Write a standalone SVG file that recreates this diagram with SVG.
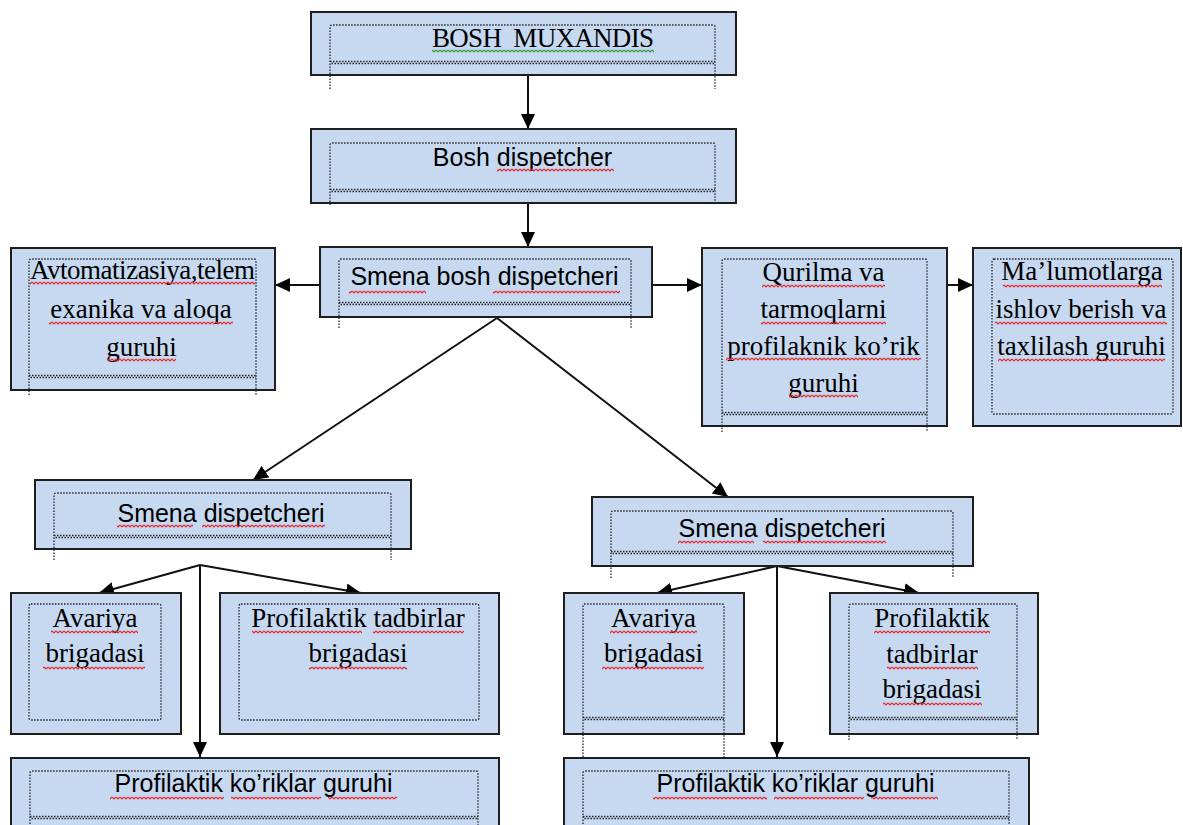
<svg xmlns="http://www.w3.org/2000/svg" width="1183" height="825" viewBox="0 0 1183 825">
<style>
.box{fill:#c6d9f0;stroke:#1e1e1e;stroke-width:2}
.dot{fill:none;stroke:#222;stroke-width:1.3;stroke-dasharray:1.5 1.5}
.dot2{fill:none;stroke:#222;stroke-width:1.3;stroke-dasharray:1.5 1.5;stroke-dashoffset:1.5}
.serif{font-family:"Liberation Serif","Times New Roman",serif;font-size:27px;fill:#000;text-anchor:middle}
.sans{font-family:"Liberation Sans",Arial,sans-serif;font-size:25px;fill:#000;text-anchor:middle}
.conn{stroke:#111;stroke-width:2;fill:none}
.wr{fill:url(#wr)}
.wg{fill:url(#wg)}
</style>
<defs>
<marker id="ah" markerUnits="userSpaceOnUse" markerWidth="16" markerHeight="14" refX="15" refY="7" orient="auto"><path d="M0,0 L15,7 L0,14 z" fill="#000"/></marker>
<pattern id="wr" width="4" height="4" patternUnits="userSpaceOnUse"><path d="M0,1 L2,3 L4,1" fill="none" stroke="#e8262b" stroke-width="1.1"/></pattern>
<pattern id="wg" width="4" height="4" patternUnits="userSpaceOnUse"><path d="M0,1 L2,3 L4,1" fill="none" stroke="#2e9b3a" stroke-width="1.1"/></pattern>
</defs>
<rect width="1183" height="825" fill="#fff"/>

<g id="connectors">
<line class="conn" x1="528" y1="75" x2="528" y2="129" marker-end="url(#ah)"/>
<line class="conn" x1="528" y1="203" x2="528" y2="247" marker-end="url(#ah)"/>
<line class="conn" x1="320" y1="285" x2="275" y2="285" marker-end="url(#ah)"/>
<line class="conn" x1="652" y1="285" x2="702" y2="285" marker-end="url(#ah)"/>
<line class="conn" x1="947" y1="285" x2="973" y2="285" marker-end="url(#ah)"/>
<line class="conn" x1="497" y1="318" x2="253" y2="480" marker-end="url(#ah)"/>
<line class="conn" x1="497" y1="318" x2="728" y2="497" marker-end="url(#ah)"/>
<line class="conn" x1="200" y1="565" x2="99" y2="593" marker-end="url(#ah)"/>
<line class="conn" x1="200" y1="565" x2="361" y2="593" marker-end="url(#ah)"/>
<line class="conn" x1="200" y1="565" x2="200" y2="757" marker-end="url(#ah)"/>
<line class="conn" x1="777" y1="566" x2="657" y2="593" marker-end="url(#ah)"/>
<line class="conn" x1="777" y1="566" x2="919" y2="593" marker-end="url(#ah)"/>
<line class="conn" x1="777" y1="566" x2="777" y2="757" marker-end="url(#ah)"/>
</g>

<g id="n-bosh-muxandis">
<rect class="box" x="311" y="12" width="425" height="63"/>
<path class="dot" d="M330,89 V27 Q330,25 332,25 H713 Q715,25 715,27 V89"/>
<line class="dot" x1="330" y1="61.5" x2="715" y2="61.5"/><line class="dot2" x1="330" y1="63.5" x2="715" y2="63.5"/>
<text class="serif" x="432" y="47" style="text-anchor:start" xml:space="preserve" font-size="26" textLength="222">BOSH  MUXANDIS</text>
<rect class="wg" x="432" y="0" width="222" height="4" transform="translate(0,49)"/>
</g>

<g id="n-bosh-dispetcher">
<rect class="box" x="311" y="129" width="425" height="74"/>
<path class="dot" d="M330,205 V145 Q330,143 332,143 H713 Q715,143 715,145 V205"/>
<line class="dot" x1="330" y1="189.5" x2="715" y2="189.5"/><line class="dot2" x1="330" y1="191.5" x2="715" y2="191.5"/>
<text class="sans" x="522.5" y="166">Bosh dispetcher</text>
<rect class="wr" x="497" y="0" width="117" height="4" transform="translate(0,168)"/>
</g>

<g id="n-smena-bosh">
<rect class="box" x="320" y="247" width="332" height="70"/>
<path class="dot" d="M339,328 V261 Q339,259 341,259 H629 Q631,259 631,261 V328"/>
<line class="dot" x1="339" y1="302.5" x2="631" y2="302.5"/><line class="dot2" x1="339" y1="304.5" x2="631" y2="304.5"/>
<text class="sans" x="484.5" y="285">Smena bosh dispetcheri</text>
<rect class="wr" x="349" y="0" width="77" height="4" transform="translate(0,290)"/>
<rect class="wr" x="493" y="0" width="127" height="4" transform="translate(0,290)"/>
</g>

<g id="n-avtomatizasiya">
<rect class="box" x="11" y="248" width="264" height="142"/>
<path class="dot" d="M29,395 V261 Q29,259 31,259 H254 Q256,259 256,261 V395"/>
<line class="dot" x1="29" y1="375.5" x2="256" y2="375.5"/><line class="dot2" x1="29" y1="377.5" x2="256" y2="377.5"/>
<text class="serif" x="142.5" y="279" textLength="225">Avtomatizasiya,telem</text>
<text class="serif" x="141" y="318">exanika va aloqa</text>
<text class="serif" x="141.5" y="356">guruhi</text>
<rect class="wr" x="30" y="0" width="225" height="4" transform="translate(0,281)"/>
<rect class="wr" x="49" y="0" width="184" height="4" transform="translate(0,321)"/>
<rect class="wr" x="107" y="0" width="69" height="4" transform="translate(0,358)"/>
</g>

<g id="n-qurilma">
<rect class="box" x="702" y="248" width="245" height="178"/>
<path class="dot" d="M722,432 V261 Q722,259 724,259 H925 Q927,259 927,261 V432"/>
<line class="dot" x1="722" y1="412.5" x2="927" y2="412.5"/><line class="dot2" x1="722" y1="414.5" x2="927" y2="414.5"/>
<text class="serif" x="823.5" y="281">Qurilma va</text>
<text class="serif" x="823.5" y="318">tarmoqlarni</text>
<text class="serif" x="823.5" y="355">profilaknik ko’rik</text>
<text class="serif" x="823.5" y="392">guruhi</text>
<rect class="wr" x="762" y="0" width="123" height="4" transform="translate(0,284)"/>
<rect class="wr" x="761" y="0" width="125" height="4" transform="translate(0,321)"/>
<rect class="wr" x="726" y="0" width="195" height="4" transform="translate(0,357)"/>
<rect class="wr" x="789" y="0" width="69" height="4" transform="translate(0,394)"/>
</g>

<g id="n-malumotlarga">
<rect class="box" x="973" y="248" width="208" height="178"/>
<rect class="dot" x="992" y="259" width="181" height="155" rx="2"/>
<text class="serif" x="1082" y="280">Ma’lumotlarga</text>
<text class="serif" x="1081" y="318">ishlov berish va</text>
<text class="serif" x="1081.5" y="355">taxlilash guruhi</text>
<rect class="wr" x="1003" y="0" width="159" height="4" transform="translate(0,284)"/>
<rect class="wr" x="995" y="0" width="172" height="4" transform="translate(0,321)"/>
<rect class="wr" x="998" y="0" width="167" height="4" transform="translate(0,358)"/>
</g>

<g id="n-smena-left">
<rect class="box" x="35" y="480" width="376" height="69"/>
<path class="dot" d="M54,560 V495 Q54,493 56,493 H389 Q391,493 391,495 V560"/>
<line class="dot" x1="54" y1="535.5" x2="391" y2="535.5"/><line class="dot2" x1="54" y1="537.5" x2="391" y2="537.5"/>
<text class="sans" x="221" y="522">Smena dispetcheri</text>
<rect class="wr" x="117" y="0" width="76" height="4" transform="translate(0,524)"/>
<rect class="wr" x="202" y="0" width="123" height="4" transform="translate(0,524)"/>
</g>

<g id="n-smena-right">
<rect class="box" x="592" y="497" width="381" height="69"/>
<path class="dot" d="M611,578 V513 Q611,511 613,511 H951 Q953,511 953,513 V578"/>
<line class="dot" x1="611" y1="551.5" x2="953" y2="551.5"/><line class="dot2" x1="611" y1="553.5" x2="953" y2="553.5"/>
<text class="sans" x="782" y="537">Smena dispetcheri</text>
<rect class="wr" x="678" y="0" width="76" height="4" transform="translate(0,540)"/>
<rect class="wr" x="763" y="0" width="123" height="4" transform="translate(0,540)"/>
</g>

<g id="n-avariya-left">
<rect class="box" x="11" y="593" width="170" height="141"/>
<rect class="dot" x="29" y="604" width="132" height="116" rx="2"/>
<text class="serif" x="95" y="627">Avariya</text>
<text class="serif" x="95" y="662">brigadasi</text>
<rect class="wr" x="51" y="0" width="87" height="4" transform="translate(0,630)"/>
<rect class="wr" x="43" y="0" width="102" height="4" transform="translate(0,666)"/>
</g>

<g id="n-profilaktik-tadbirlar-left">
<rect class="box" x="220" y="593" width="279" height="141"/>
<rect class="dot" x="239" y="604" width="240" height="116" rx="2"/>
<text class="serif" x="358" y="627">Profilaktik tadbirlar</text>
<text class="serif" x="358" y="662">brigadasi</text>
<rect class="wr" x="252" y="0" width="110" height="4" transform="translate(0,630)"/>
<rect class="wr" x="373" y="0" width="91" height="4" transform="translate(0,630)"/>
<rect class="wr" x="309" y="0" width="98" height="4" transform="translate(0,666)"/>
</g>

<g id="n-avariya-right">
<rect class="box" x="564" y="593" width="180" height="141"/>
<path class="dot" d="M583,757 V606 Q583,604 585,604 H722 Q724,604 724,606 V757"/>
<line class="dot" x1="583" y1="717.5" x2="724" y2="717.5"/><line class="dot2" x1="583" y1="719.5" x2="724" y2="719.5"/>
<text class="serif" x="653.5" y="627">Avariya</text>
<text class="serif" x="653.5" y="662">brigadasi</text>
<rect class="wr" x="610" y="0" width="87" height="4" transform="translate(0,630)"/>
<rect class="wr" x="602" y="0" width="102" height="4" transform="translate(0,666)"/>
</g>

<g id="n-profilaktik-tadbirlar-right">
<rect class="box" x="830" y="593" width="208" height="141"/>
<path class="dot" d="M849,740 V606 Q849,604 851,604 H1015 Q1017,604 1017,606 V740"/>
<line class="dot" x1="849" y1="717.5" x2="1017" y2="717.5"/><line class="dot2" x1="849" y1="719.5" x2="1017" y2="719.5"/>
<text class="serif" x="932" y="627">Profilaktik</text>
<text class="serif" x="932" y="663">tadbirlar</text>
<text class="serif" x="932" y="698">brigadasi</text>
<rect class="wr" x="874" y="0" width="116" height="4" transform="translate(0,630)"/>
<rect class="wr" x="887" y="0" width="91" height="4" transform="translate(0,666)"/>
<rect class="wr" x="883" y="0" width="99" height="4" transform="translate(0,702)"/>
</g>

<g id="n-koriklar-left">
<rect class="box" x="11" y="758" width="488" height="80"/>
<path class="dot" d="M30,830 V773 Q30,771 32,771 H476 Q478,771 478,773 V830"/>
<line class="dot" x1="30" y1="816.5" x2="478" y2="816.5"/><line class="dot2" x1="30" y1="818.5" x2="478" y2="818.5"/>
<text class="sans" x="253.5" y="792">Profilaktik ko’riklar guruhi</text>
<rect class="wr" x="110" y="0" width="114" height="4" transform="translate(0,796)"/>
<rect class="wr" x="231" y="0" width="90" height="4" transform="translate(0,796)"/>
<rect class="wr" x="328" y="0" width="69" height="4" transform="translate(0,796)"/>
</g>

<g id="n-koriklar-right">
<rect class="box" x="564" y="758" width="465" height="80"/>
<path class="dot" d="M583,830 V773 Q583,771 585,771 H1007 Q1009,771 1009,773 V830"/>
<line class="dot" x1="583" y1="816.5" x2="1009" y2="816.5"/><line class="dot2" x1="583" y1="818.5" x2="1009" y2="818.5"/>
<text class="sans" x="795.5" y="792">Profilaktik ko’riklar guruhi</text>
<rect class="wr" x="653" y="0" width="114" height="4" transform="translate(0,796)"/>
<rect class="wr" x="774" y="0" width="90" height="4" transform="translate(0,796)"/>
<rect class="wr" x="871" y="0" width="67" height="4" transform="translate(0,796)"/>
</g>
</svg>
